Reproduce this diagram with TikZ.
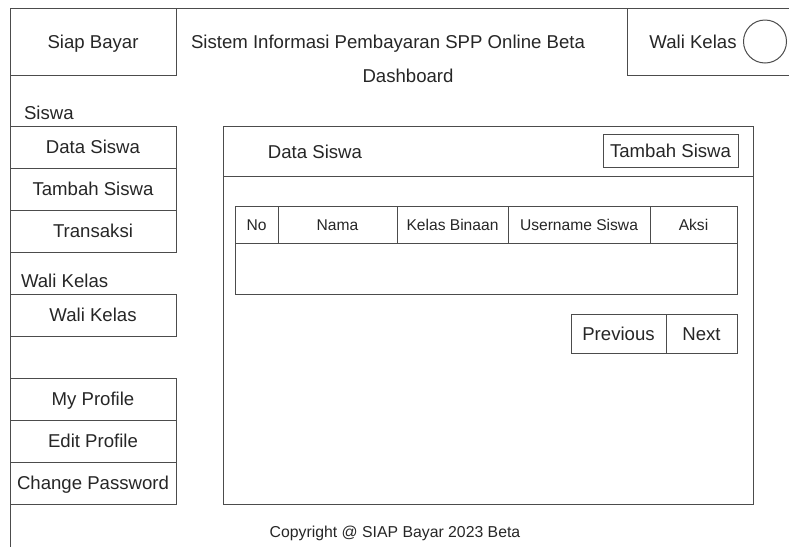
\documentclass[tikz,border=0pt]{standalone}
\usepackage{fontspec}
\setmainfont{Liberation Sans}
\usetikzlibrary{positioning}

\begin{document}
\begin{tikzpicture}[x=1pt,y=-1pt,line width=1pt,
    every node/.style={text=black!85, font=\fontsize{18.6}{22}\selectfont, text height=13.4pt, text depth=0pt, inner sep=0pt, outer sep=0pt},
    menubox/.style={draw=black!70, minimum width=166pt, minimum height=42pt},
    cellbox/.style={draw=black!70, minimum height=37pt, font=\fontsize{15.6}{18}\selectfont, text height=11.2pt},
    btnbox/.style={draw=black!70, minimum height=39pt}]
        \useasboundingbox (0,0) rectangle (789,547);

        % Draw the outer frame of the page
        \draw[black!70] (789,8) -- (10,8) -- (10,547);

        % Header: logo, title and user box
        \node[menubox, minimum height=67pt] (logo) at (93,41.5) {Siap Bayar};
        \node (judul) at (388,42) {Sistem Informasi Pembayaran SPP Online Beta};
        \node (dashboard) at (408,76) {Dashboard};
        \draw[black!70] (627,8) -- (627,75) -- (789,75);
        \node (wali) at (693,42) {Wali Kelas};
        \node[circle, draw=black!70, minimum size=43pt, text height=0pt] (avatar) at (765,41.5) {};

        % Sidebar menu
        \node[anchor=west] (lblsiswa) at (24,113) {Siswa};
        \node[menubox] (datasiswa) at (93,147) {Data Siswa};
        \node[menubox, below=0pt of datasiswa] (tambahsiswa) {Tambah Siswa};
        \node[menubox, below=0pt of tambahsiswa] (transaksi) {Transaksi};
        \node[anchor=west] (lblwali) at (21,281) {Wali Kelas};
        \node[menubox] (walikelas) at (93,315) {Wali Kelas};
        \node[menubox] (myprofile) at (93,399) {My Profile};
        \node[menubox, below=0pt of myprofile] (editprofile) {Edit Profile};
        \node[menubox, below=0pt of editprofile] (gantipass) {Change Password};

        % Main panel
        \node[draw=black!70, minimum width=530pt, minimum height=378pt, anchor=north west] (panel) at (223,126) {};
        \draw[black!70] (223,176) -- (753,176);
        \node (judulpanel) at (315,152) {Data Siswa};
        \node[btnbox, minimum width=135pt, minimum height=33pt] (btntambah) at (670.5,150.5) {Tambah Siswa};

        % Table of students
        \node[cellbox, minimum width=43pt, anchor=north west] (colno) at (235,206) {No};
        \node[cellbox, minimum width=119pt, right=0pt of colno] (colnama) {Nama};
        \node[cellbox, minimum width=111pt, right=0pt of colnama] (colkelas) {Kelas Binaan};
        \node[cellbox, minimum width=142pt, right=0pt of colkelas] (coluser) {Username Siswa};
        \node[cellbox, minimum width=87pt, right=0pt of coluser] (colaksi) {Aksi};
        \node[draw=black!70, minimum width=502pt, minimum height=51pt, text height=0pt, anchor=north west] (tblbody) at (235,243) {};

        % Pagination
        \node[btnbox, minimum width=95pt, anchor=north west] (prev) at (571,314) {Previous};
        \node[btnbox, minimum width=71pt, right=0pt of prev] (next) {Next};

        % Footer
        \node[font=\fontsize{15.8}{18}\selectfont, text height=11.3pt] (copyright) at (395,532) {Copyright @ SIAP Bayar 2023 Beta};
    \end{tikzpicture}
\end{document}
